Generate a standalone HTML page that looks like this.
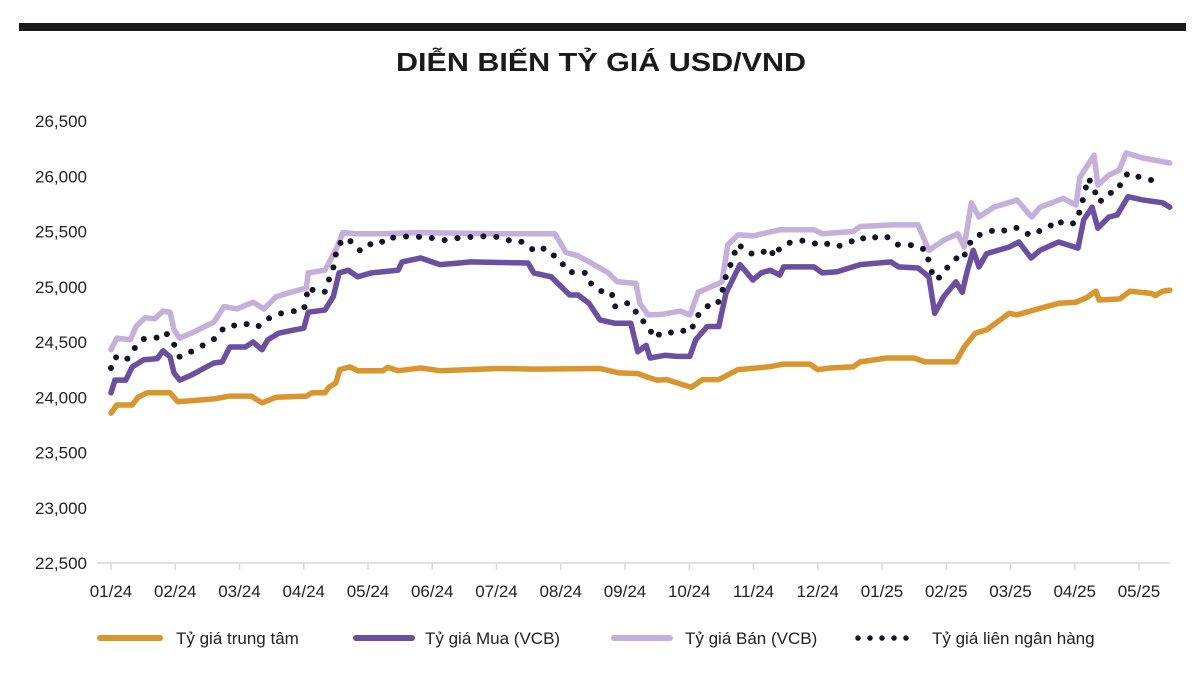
<!DOCTYPE html>
<html><head><meta charset="utf-8"><style>
html,body{margin:0;padding:0;background:#fff;}
body{width:1200px;height:686px;overflow:hidden;font-family:"Liberation Sans","Noto Sans CJK SC",sans-serif;}
</style></head><body>
<svg id="chart" width="1200" height="686" xmlns="http://www.w3.org/2000/svg" font-family="Liberation Sans, Noto Sans CJK SC, sans-serif">
<rect x="19" y="23" width="1167" height="8" fill="#1a1a1a"/>
<text x="601" y="71" text-anchor="middle" font-size="26" font-weight="bold" fill="#1a1a1a" textLength="410" lengthAdjust="spacingAndGlyphs">DIỄN BIẾN TỶ GIÁ USD/VND</text>
<g id="axes"></g>
<g id="series"></g>
<g id="legend">
<line x1="100" y1="638" x2="160" y2="638" stroke="#D9952E" stroke-width="6" stroke-linecap="round"/>
<text x="176" y="644" font-size="17" fill="#222">Tỷ giá trung tâm</text>
<line x1="356" y1="638" x2="412" y2="638" stroke="#6B4FA0" stroke-width="6" stroke-linecap="round"/>
<text x="425" y="644" font-size="17" fill="#222">Tỷ giá Mua (VCB)</text>
<line x1="614" y1="638" x2="670" y2="638" stroke="#C4B0DA" stroke-width="6" stroke-linecap="round"/>
<text x="685" y="644" font-size="17" fill="#222">Tỷ giá Bán (VCB)</text>
<line x1="858" y1="638" x2="918" y2="638" stroke="#15112a" stroke-width="5.5" stroke-linecap="round" stroke-dasharray="0 12"/>
<text x="932" y="644" font-size="17" fill="#222">Tỷ giá liên ngân hàng</text>
</g>
</svg>
<script>
const monthLabels=["01/24","02/24","03/24","04/24","05/24","06/24","07/24","08/24","09/24","10/24","11/24","12/24","01/25","02/25","03/25","04/25","05/25"];
const yTicks=[22500,23000,23500,24000,24500,25000,25500,26000,26500];
const centralT=[0,.09,.33,.42,.56,.92,1.04,1.60,1.85,2.18,2.35,2.57,3.04,3.13,3.33,3.39,3.50,3.56,3.72,3.84,4.23,4.31,4.47,4.82,5.12,6.01,6.61,7.61,7.91,8.20,8.36,8.50,8.65,8.81,9.03,9.21,9.46,9.76,10.23,10.47,10.88,11.00,11.19,11.55,11.66,12.08,12.50,12.67,13.15,13.28,13.45,13.63,13.98,14.10,14.46,14.75,15.02,15.18,15.33,15.38,15.70,15.86,16.19,16.25,16.37,16.48];
const centralV=[23857,23930,23930,24000,24040,24040,23960,23985,24010,24010,23950,24000,24010,24040,24040,24090,24130,24250,24275,24240,24240,24270,24240,24265,24240,24260,24255,24260,24220,24215,24180,24155,24160,24130,24090,24160,24160,24250,24275,24300,24300,24250,24265,24275,24320,24355,24355,24320,24320,24455,24580,24610,24760,24745,24805,24850,24860,24900,24960,24880,24890,24960,24940,24920,24960,24970];
const buyT=[0,.06,.23,.33,.51,.72,.81,.92,.98,1.07,1.25,1.60,1.73,1.85,2.09,2.21,2.35,2.44,2.61,2.86,3.00,3.07,3.33,3.46,3.55,3.69,3.84,4.05,4.23,4.47,4.53,4.82,5.12,5.42,5.60,5.96,6.49,6.58,6.85,7.14,7.27,7.44,7.61,7.84,8.09,8.20,8.33,8.39,8.62,8.81,9.01,9.10,9.28,9.46,9.57,9.79,9.99,10.12,10.26,10.41,10.47,10.94,11.07,11.30,11.66,12.14,12.26,12.56,12.73,12.82,12.96,13.15,13.25,13.32,13.42,13.51,13.63,13.98,14.13,14.32,14.46,14.75,15.05,15.14,15.27,15.36,15.53,15.66,15.83,16.06,16.37,16.48];
const buyV=[24040,24155,24155,24275,24340,24350,24420,24365,24220,24155,24200,24310,24320,24455,24455,24500,24430,24520,24580,24610,24625,24770,24790,24910,25125,25150,25090,25125,25135,25150,25225,25260,25200,25215,25225,25220,25215,25125,25090,24925,24925,24850,24700,24670,24670,24410,24470,24355,24380,24370,24370,24520,24640,24640,24940,25200,25060,25125,25150,25105,25180,25180,25125,25135,25200,25225,25180,25170,25090,24760,24910,25045,24950,25125,25330,25180,25300,25360,25405,25260,25330,25405,25350,25605,25720,25530,25630,25650,25815,25785,25760,25720];
const sellT=[0,.09,.30,.39,.53,.68,.81,.92,.98,1.07,1.25,1.60,1.76,1.96,2.21,2.38,2.57,2.80,3.04,3.07,3.33,3.52,3.61,3.81,4.23,4.82,6.01,6.61,6.91,7.08,7.27,7.44,7.61,7.74,7.88,8.17,8.23,8.36,8.56,8.86,9.01,9.14,9.40,9.51,9.60,9.76,9.99,10.41,10.94,11.07,11.55,11.66,12.14,12.56,12.73,12.96,13.18,13.28,13.39,13.51,13.74,14.10,14.33,14.46,14.82,15.02,15.08,15.30,15.36,15.53,15.69,15.80,16.06,16.48];
const sellV=[24430,24535,24520,24640,24720,24710,24780,24770,24610,24535,24580,24680,24820,24800,24860,24800,24910,24950,24990,25125,25150,25360,25490,25480,25480,25490,25480,25480,25480,25310,25280,25225,25170,25125,25045,25030,24850,24745,24750,24780,24745,24950,25015,25045,25380,25470,25460,25515,25515,25480,25500,25545,25560,25560,25330,25420,25480,25360,25760,25630,25720,25785,25630,25720,25800,25740,25990,26190,25920,26010,26055,26210,26165,26120];
const interT=[0,.06,.23,.33,.42,.53,.72,.84,.95,1.07,1.31,1.49,1.63,1.73,1.85,2.02,2.15,2.29,2.41,2.57,2.71,2.86,3.00,3.04,3.07,3.19,3.33,3.39,3.46,3.52,3.63,3.75,3.88,4.02,4.17,4.30,4.47,4.64,4.82,5.00,5.18,5.51,5.68,5.87,6.01,6.19,6.35,6.49,6.61,6.75,6.85,7.00,7.08,7.21,7.39,7.47,7.60,7.67,7.81,7.84,8.00,8.14,8.20,8.30,8.39,8.45,8.56,8.65,8.81,8.92,9.04,9.07,9.17,9.31,9.43,9.51,9.54,9.60,9.70,9.73,9.87,9.99,10.18,10.26,10.32,10.41,10.54,10.71,10.88,11.04,11.19,11.33,11.49,11.63,11.81,11.95,12.11,12.25,12.40,12.56,12.70,12.73,12.79,12.86,12.95,13.09,13.18,13.25,13.32,13.39,13.48,13.63,13.74,13.87,14.01,14.13,14.26,14.33,14.43,14.58,14.72,14.85,14.99,15.05,15.14,15.21,15.30,15.36,15.47,15.60,15.69,15.72,15.83,16.02,16.19,16.37];
const interV=[24265,24365,24330,24410,24490,24535,24540,24590,24520,24365,24430,24490,24535,24610,24655,24640,24670,24640,24700,24745,24770,24780,24790,24900,25000,24950,24955,25060,25170,25360,25440,25405,25325,25385,25380,25450,25440,25460,25450,25440,25420,25450,25450,25460,25450,25420,25420,25370,25315,25350,25300,25240,25150,25125,25125,25030,24990,24925,24925,24820,24860,24820,24720,24680,24610,24535,24580,24570,24610,24600,24600,24680,24770,24835,24835,24940,25045,25135,25285,25380,25350,25290,25320,25350,25270,25350,25395,25420,25410,25370,25395,25370,25395,25450,25420,25465,25445,25380,25380,25370,25320,25215,25105,25060,25135,25215,25270,25245,25330,25420,25465,25480,25515,25500,25540,25530,25480,25465,25500,25530,25605,25560,25575,25630,25815,25985,25895,25770,25790,25875,25890,25950,26030,25990,25965,25970];

const NS="http://www.w3.org/2000/svg";
const X0=111,PX_PER_MONTH=64.25;
function xs(t){return X0+t*PX_PER_MONTH;}
const Y_TOP=121,Y_BOT=563,VMIN=22500,VMAX=26500;
function ys(v){return Y_BOT-(v-VMIN)/(VMAX-VMIN)*(Y_BOT-Y_TOP);}
function mk(tag,attrs){const e=document.createElementNS(NS,tag);for(const k in attrs)e.setAttribute(k,attrs[k]);return e;}

const axes=document.getElementById('axes');
yTicks.forEach(v=>{
  const t=mk('text',{x:87,y:ys(v)+6,'text-anchor':'end','font-size':17,fill:'#222'});
  
  
  t.textContent=v.toLocaleString('en-US');
  axes.appendChild(t);
});
const base=mk('line',{x1:97,y1:Y_BOT,x2:1170,y2:Y_BOT,stroke:'#d9d9d9','stroke-width':1.5});


axes.appendChild(base);
monthLabels.forEach((m,i)=>{
  const x=xs(i);
  const tk=mk('line',{x1:x,y1:Y_BOT,x2:x,y2:Y_BOT+7,stroke:'#d9d9d9','stroke-width':1.5});
  
  
  axes.appendChild(tk);
  const t=mk('text',{x:x,y:597,'text-anchor':'middle','font-size':17,fill:'#222'});
  
  
  t.textContent=m;
  axes.appendChild(t);
});

const ser=document.getElementById('series');
function line(T,V,color,w,name,dash){
  const d=T.map((t,i)=>(i?'L':'M')+xs(t).toFixed(1)+','+ys(V[i]).toFixed(1)).join(' ');
  const p=mk('path',{d:d,fill:'none',stroke:color,'stroke-width':w,'stroke-linejoin':'round','stroke-linecap':'round'});
  if(dash)p.setAttribute('stroke-dasharray',dash);
  
  
  ser.appendChild(p);
}
line(centralT,centralV,'#D9952E',5.5,'series-central-rate');
line(sellT,sellV,'#C4B0DA',5.5,'series-vcb-sell');
line(buyT,buyV,'#6B4FA0',5.5,'series-vcb-buy');
line(interT,interV,'#15112a',6,'series-interbank','0 13');
</script>
</body></html>
